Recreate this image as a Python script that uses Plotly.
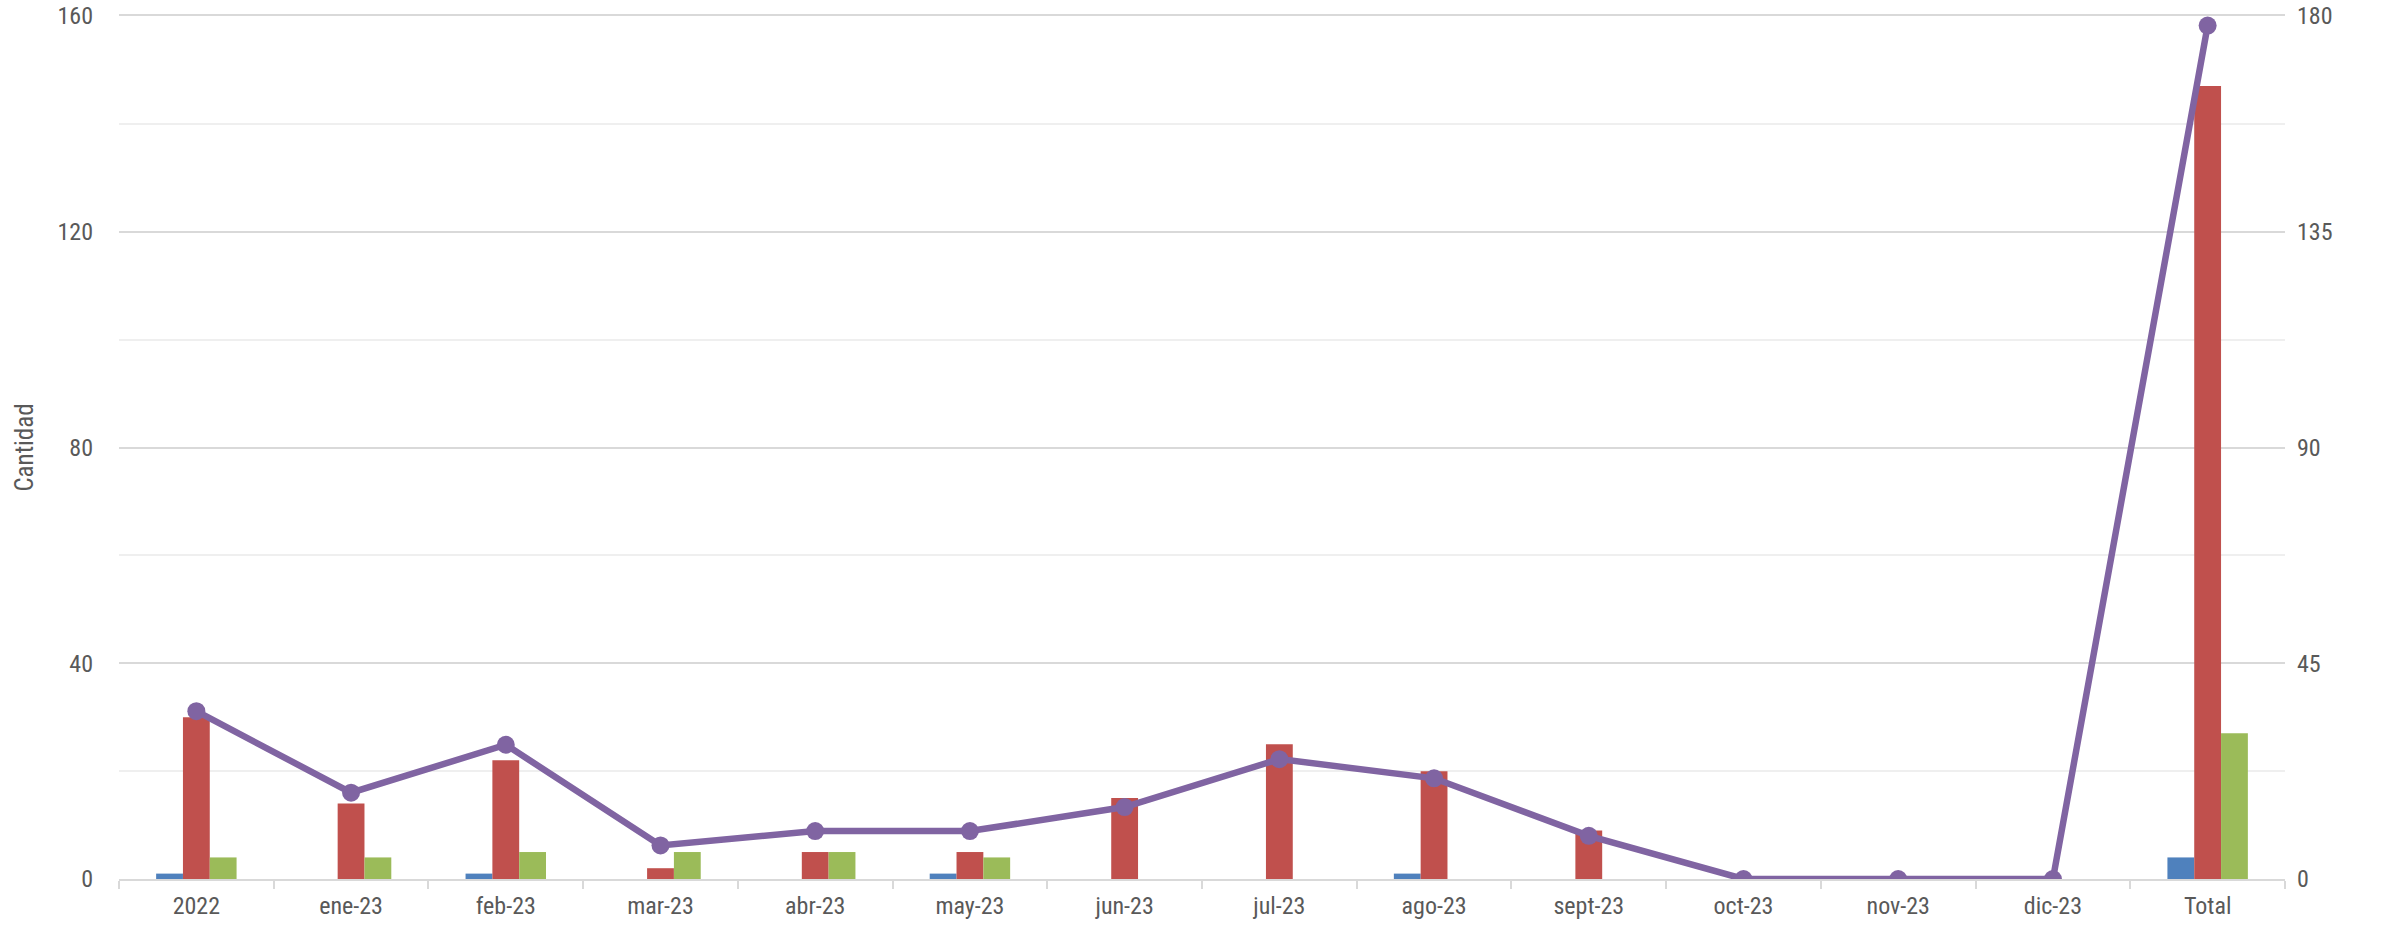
import plotly.graph_objects as go

categories = ["2022", "ene-23", "feb-23", "mar-23", "abr-23", "may-23", "jun-23",
              "jul-23", "ago-23", "sept-23", "oct-23", "nov-23", "dic-23", "Total"]
serie_azul = [1, 0, 1, 0, 0, 1, 0, 0, 1, 0, 0, 0, 0, 4]
serie_roja = [30, 14, 22, 2, 5, 5, 15, 25, 20, 9, 0, 0, 0, 147]
serie_verde = [4, 4, 5, 5, 5, 4, 0, 0, 0, 0, 0, 0, 0, 27]
serie_total = [35, 18, 28, 7, 10, 10, 15, 25, 21, 9, 0, 0, 0, 178]
left_ticks = [0, 40, 80, 120, 160]
right_ticks = [0, 45, 90, 135, 180]

cat_font = "Liberation Sans Narrow, Roboto Condensed, Arial Narrow, sans-serif"
txt = "#595959"

fig = go.Figure()
for vals, col in [(serie_azul, "#4F81BD"), (serie_roja, "#C0504D"), (serie_verde, "#9BBB59")]:
    fig.add_trace(go.Bar(x=categories, y=vals, marker=dict(color=col, line=dict(width=0)),
                         yaxis="y", hoverinfo="skip"))
fig.add_trace(go.Scatter(x=categories, y=serie_total, yaxis="y2", mode="lines+markers",
                         line=dict(color="#8064A2", width=6.5),
                         marker=dict(color="#8064A2", size=18), hoverinfo="skip"))

fig.update_layout(
    width=2384, height=925,
    margin=dict(l=119, r=99, t=16, b=46),
    paper_bgcolor="white", plot_bgcolor="rgba(0,0,0,0)",
    showlegend=False, barmode="group", bargap=0.48, bargroupgap=0,
    hovermode=False,
    xaxis=dict(type="category", range=[-0.5, len(categories) - 0.5], automargin=False,
               tickson="boundaries", ticks="outside", ticklen=8, mirror=True,
               tickcolor="#d9d9d9", tickwidth=2, showline=True, linecolor="#d9d9d9", linewidth=2,
               showgrid=False, ticklabelstandoff=4,
               tickfont=dict(family=cat_font, size=24, color=txt)),
    yaxis=dict(range=[0, 160], tickvals=left_ticks, showgrid=True, gridcolor="#d9d9d9",
               gridwidth=2, zeroline=False, showline=False, automargin=False,
               ticklabeloverflow="allow",
               minor=dict(dtick=20, showgrid=True, gridcolor="#efefef", gridwidth=2),
               tickfont=dict(family=cat_font, size=24, color=txt), ticklen=0,
               ticklabelstandoff=25,
               title=dict(text="Cantidad", standoff=16,
                          font=dict(family=cat_font, size=25, color=txt))),
    yaxis2=dict(range=[0, 180], tickvals=right_ticks, overlaying="y", side="right",
                showgrid=False, zeroline=False, showline=False, automargin=False,
                ticklabeloverflow="allow",
                tickfont=dict(family=cat_font, size=24, color=txt), ticklabelstandoff=11),
)

fig.write_html("out.html", config={"displayModeBar": False},
               post_script="document.body.style.margin='0';")
